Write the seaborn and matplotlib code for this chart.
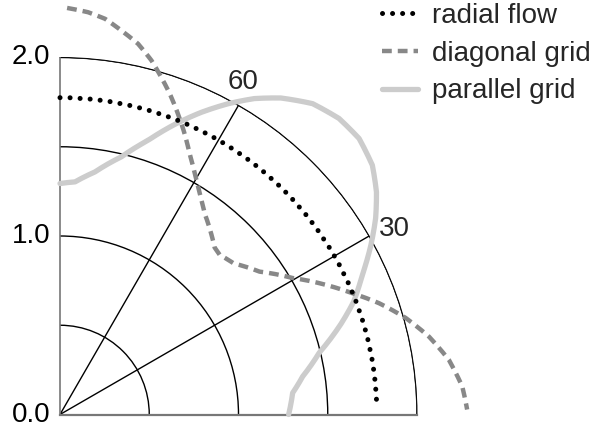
import numpy as np
import matplotlib
matplotlib.use("Agg")
import matplotlib.pyplot as plt
import seaborn as sns

# -------------------- DATA --------------------
# (angle in degrees, radius) pairs
parallel_angles = [90.0, 86.3, 81.8, 76.6, 72.2, 68.5, 64.9, 61.6, 58.4, 55.1, 50.9, 46.7,
                   42.7, 38.6, 35.1, 31.9, 28.6, 24.8, 21.0, 17.9, 13.4, 8.9, 5.3, 0.0]
parallel_grid = [1.294, 1.306, 1.373, 1.484, 1.613, 1.745, 1.870, 1.979, 2.078, 2.162, 2.244, 2.279,
                 2.280, 2.239, 2.167, 2.083, 1.984, 1.866, 1.762, 1.655, 1.493, 1.376, 1.309, 1.281]

diagonal_angles = [89.0, 86.0, 83.5, 80.9, 78.1, 75.5, 73.3, 71.1, 68.6, 66.1, 63.6, 60.8, 57.7, 54.3,
                   50.2, 47.2, 45.0, 41.0, 35.6, 30.4, 26.0, 22.5, 19.2, 15.6, 11.9, 8.0, 4.0, 0.7]
diagonal_grid = [2.278, 2.259, 2.231, 2.178, 2.122, 2.048, 1.973, 1.899, 1.810, 1.722, 1.632, 1.547, 1.465, 1.388,
                 1.322, 1.275, 1.265, 1.290, 1.375, 1.511, 1.657, 1.774, 1.894, 2.011, 2.113, 2.200, 2.259, 2.281]

flow_angles = [90, 75, 60, 45, 30, 15, 2]
radial_flow = [1.775, 1.775, 1.775, 1.775, 1.775, 1.775, 1.775]

r_ticks = [0.0, 0.5, 1.0, 1.5, 2.0]
r_tick_labels = ["0.0", "", "1.0", "", "2.0"]
theta_ticks = [30, 60]
theta_tick_labels = ["30", "60"]

# -------------------- STYLE --------------------
sns.set_theme(style="white")
plt.rcParams["font.family"] = ["Liberation Sans", "DejaVu Sans"]

fig = plt.figure(figsize=(5.92, 4.32), dpi=100)
ax = fig.add_axes([60 / 592, 17 / 432, 357 / 592, 358 / 432], projection="polar")

# -------------------- CURVES --------------------
sns.lineplot(x=np.deg2rad(parallel_angles), y=parallel_grid, ax=ax, sort=False,
             color="#cccccc", lw=3.8, clip_on=False, zorder=3, label="parallel grid")
sns.lineplot(x=np.deg2rad(diagonal_angles), y=diagonal_grid, ax=ax, sort=False,
             color="#888888", lw=3.2, linestyle=(0, (2.2, 1.35)), clip_on=False,
             zorder=4, label="diagonal grid")
sns.lineplot(x=np.deg2rad(flow_angles), y=radial_flow, ax=ax, sort=False,
             color="black", lw=3.6, linestyle=(0, (0.01, 2.0)), dash_capstyle="round",
             clip_on=False, zorder=5, label="radial flow")

# follow the polar arcs between the read points instead of straight chords
for line in ax.lines:
    line._path._interpolation_steps = 12
    line.set_solid_joinstyle("round")

# -------------------- AXES --------------------
ax.set_thetamin(0)
ax.set_thetamax(90)
ax.set_rlim(0, 2)
ax.set_rticks(r_ticks)
ax.set_yticklabels(r_tick_labels)
ax.set_thetagrids(theta_ticks, labels=["", ""])

ax.grid(True, color="black", lw=1.0)
for i in (0, 4):
    ax.yaxis.get_major_ticks()[i].gridline.set_visible(False)

ax.tick_params(length=0, labelsize=20, colors="black")
ax.tick_params(axis="y", labelleft=False, labelright=True, pad=7)

# angle labels sit just outside the outer arc
label_offsets = {"30": (18, 5), "60": (3, 17)}
for ang, txt in zip(theta_ticks, theta_tick_labels):
    ax.annotate(txt, xy=(np.deg2rad(ang), 2.0), xytext=label_offsets[txt],
                textcoords="offset points", ha="center", va="center",
                fontsize=20, annotation_clip=False)

ax.spines["polar"].set(color="black", lw=0.7)
ax.spines["start"].set(color="#777777", lw=1.6)
ax.spines["end"].set(color="#777777", lw=1.2)

handles, labels = ax.get_legend_handles_labels()
order = [2, 1, 0]
ax.legend([handles[i] for i in order], [labels[i] for i in order],
          loc="upper left", bbox_to_anchor=(382 / 592, 1 - 3 / 432),
          bbox_transform=fig.transFigure, frameon=False, fontsize=20,
          handlelength=1.3, handletextpad=0.5, labelspacing=0.42,
          borderpad=0, borderaxespad=0)

fig.savefig("out.png", dpi=100)
